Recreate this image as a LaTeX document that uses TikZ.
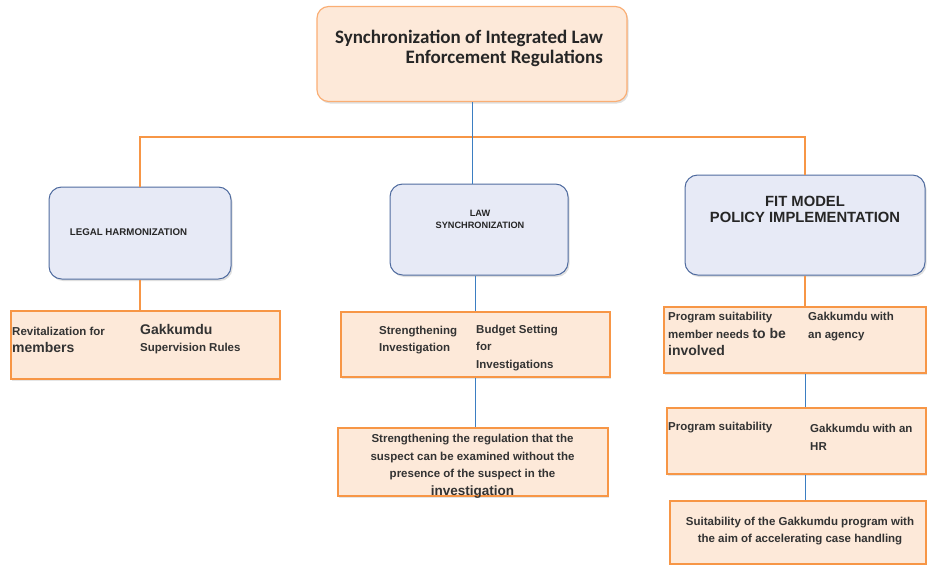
\documentclass[tikz,border=0pt]{standalone}
\usepackage{fontspec}
\setmainfont{Liberation Sans}
\newfontfamily\calibfont{Carlito}
\usepackage{tikz}
\usetikzlibrary{positioning}
\usetikzlibrary{shadows}
\definecolor{peach}{HTML}{FDE9D9}
\definecolor{orangeline}{HTML}{F79646}
\definecolor{titleline}{HTML}{FAAE74}
\definecolor{paleblue}{HTML}{E7EAF6}
\definecolor{navyline}{HTML}{4F6B9F}
\definecolor{blueline}{HTML}{3B7EC2}
\newcommand{\bigtxt}{\fontsize{14}{17.5}\selectfont}
\tikzset{every picture/.style={x=1pt,y=-1pt},
  boxshadow/.style={drop shadow={shadow xshift=1.5pt,shadow yshift=-2pt,opacity=0.25}},
  titlebox/.style={draw=titleline,fill=peach,line width=1.2pt,rounded corners=2.2ex,boxshadow},
  headbox/.style={draw=navyline,fill=paleblue,line width=1pt,rounded corners=2.4ex,boxshadow},
  leafbox/.style={draw=orangeline,fill=peach,line width=1.2pt,drop shadow={shadow xshift=1pt,shadow yshift=-1.5pt,opacity=0.2}},
  leaftext/.style={inner sep=0pt,anchor=base west,align=left,font=\bfseries\fontsize{11.5}{17.5}\selectfont,text=black!80},
  headtext/.style={inner sep=0pt,align=center,text=black!85},
  orangelink/.style={draw=orangeline,line width=1.5pt},
  bluelink/.style={draw=blueline,line width=1pt}}
\begin{document}
\begin{tikzpicture}
\useasboundingbox (0,0) rectangle (927,565);

% boxes
\node (title) at (472,54) [titlebox,minimum width=310pt,minimum height=95pt] {};
\node (leg) at (140,233) [headbox,minimum width=182pt,minimum height=92pt] {};
\node (law) at (479,229.5) [headbox,minimum width=178pt,minimum height=91pt] {};
\node (fit) at (805,225) [headbox,minimum width=240pt,minimum height=100pt] {};
\node (rev) at (145.5,345) [leafbox,minimum width=269pt,minimum height=68pt] {};
\node (str) at (475.5,344.5) [leafbox,minimum width=269pt,minimum height=65pt] {};
\node (exam) at (473,462) [leafbox,minimum width=270pt,minimum height=68pt] {};
\node (prog1) at (795,340) [leafbox,minimum width=262pt,minimum height=66pt] {};
\node (prog2) at (796.5,441) [leafbox,minimum width=259pt,minimum height=66pt] {};
\node (suit) at (798,532.5) [leafbox,minimum width=256pt,minimum height=63pt] {};
\coordinate (bus) at (472,137);

% links
\draw[orangelink] (leg.north) |- (bus) -| (fit.north);
\draw[bluelink] (title.south) -- (title.south |- law.north);
\draw[orangelink] (leg.south) -- (leg.south |- rev.north);
\draw[bluelink] (str.north |- law.south) -- (str.north);
\draw[bluelink] (str.south) -- (str.south |- exam.north);
\draw[orangelink] (fit.south) -- (fit.south |- prog1.north);
\draw[bluelink] (fit.south |- prog1.south) -- (fit.south |- prog2.north);
\draw[bluelink] (fit.south |- prog2.south) -- (fit.south |- suit.north);

% texts (base = last line)
\node (titletxt) at (469,48.5) [inner sep=0pt,align=right,text=black!85,font=\calibfont\bfseries\fontsize{19}{20}\selectfont] {Synchronization of Integrated Law\\Enforcement Regulations};
\node (legtxt) at (128.5,232) [headtext,font=\bfseries\fontsize{9.7}{11}\selectfont] {LEGAL HARMONIZATION};
\node (lawtxt) at (480,219.5) [headtext,font=\bfseries\fontsize{9.2}{11.5}\selectfont] {LAW\\SYNCHRONIZATION};
\node (fittxt) at (805,209.5) [headtext,font=\bfseries\fontsize{14.8}{16.5}\selectfont] {FIT MODEL\\POLICY IMPLEMENTATION};
\node (revtxt) at (12,352.7) [leaftext] {Revitalization for\\{\bigtxt members}};
\node (gaktxt) at (140,351.7) [leaftext] {{\bigtxt Gakkumdu}\\Supervision Rules};
\node (strtxt) at (379,351.7) [leaftext] {Strengthening\\Investigation};
\node (budtxt) at (476,368.3) [leaftext] {Budget Setting\\ for\\ Investigations};
\node (examtxt) at (472.5,495) [leaftext,anchor=base,align=center] {Strengthening the regulation that the\\suspect can be examined without the\\presence of the suspect in the\\{\fontsize{13.5}{17.5}\selectfont investigation}};
\node (prog1txt) at (668,355.7) [leaftext] {Program suitability\\member needs {\bigtxt to be}\\{\bigtxt involved}};
\node (gak1txt) at (808,338.3) [leaftext] {Gakkumdu with\\an agency};
\node (prog2txt) at (668,430.7) [leaftext] {Program suitability};
\node (gak2txt) at (810,450) [leaftext] {Gakkumdu with an\\HR};
\node (suittxt) at (800,542.7) [leaftext,anchor=base,align=center] {Suitability of the Gakkumdu program with\\the aim of accelerating case handling};

\end{tikzpicture}
\end{document}
